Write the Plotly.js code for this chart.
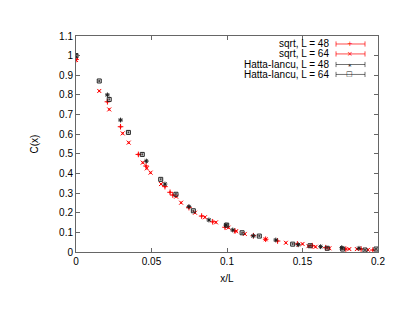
<!DOCTYPE html>
<html>
<head>
<meta charset="utf-8">
<script src="https://cdn.plot.ly/plotly-3.0.1.min.js"></script>
<style>html,body{margin:0;padding:0;background:#fff;}#chart{width:407px;height:315px;}</style>
</head>
<body>
<div id="chart"></div>
<script>
// sqrt, L = 48
const sqrt48X = [0, 0.0208, 0.0295, 0.0413, 0.0464, 0.0589, 0.0623, 0.0641, 0.0748, 0.0832, 0.0905, 0.0987, 0.1053, 0.1175, 0.1256, 0.1335, 0.1466, 0.1565, 0.1654, 0.1787, 0.1888, 0.1966];
const sqrt48Y = [0.98, 0.765, 0.638, 0.497, 0.438, 0.333, 0.304, 0.290, 0.226, 0.183, 0.154, 0.126, 0.107, 0.083, 0.065, 0.056, 0.041, 0.032, 0.022, 0.015, 0.015, 0.010];
// sqrt, L = 64
const sqrt64X = [0, 0.0154, 0.0220, 0.0309, 0.0349, 0.0442, 0.0469, 0.0494, 0.0563, 0.0663, 0.0696, 0.0788, 0.0854, 0.0927, 0.1010, 0.1060, 0.1118, 0.1256, 0.1390, 0.1500, 0.1540, 0.1586, 0.1678, 0.1810, 0.1860, 0.1934];
const sqrt64Y = [0.978, 0.820, 0.726, 0.604, 0.557, 0.455, 0.426, 0.404, 0.346, 0.282, 0.251, 0.200, 0.177, 0.151, 0.124, 0.106, 0.092, 0.065, 0.047, 0.041, 0.030, 0.026, 0.019, 0.015, 0.015, 0.011];
// Hatta-Iancu, L = 48
const hi48X = [0, 0.0208, 0.0295, 0.0466, 0.0589, 0.0748, 0.0880, 0.0993, 0.1038, 0.1174, 0.1323, 0.1472, 0.1620, 0.1760, 0.1874];
const hi48Y = [1.0, 0.800, 0.672, 0.463, 0.346, 0.231, 0.163, 0.137, 0.112, 0.082, 0.061, 0.037, 0.027, 0.022, 0.019];
// Hatta-Iancu, L = 64
const hi64X = [0, 0.0154, 0.0220, 0.0347, 0.0439, 0.0561, 0.0662, 0.0777, 0.0998, 0.1100, 0.1214, 0.1435, 0.1550, 0.1664, 0.1766, 0.1914, 0.1987];
const hi64Y = [1.0, 0.871, 0.777, 0.609, 0.497, 0.370, 0.294, 0.210, 0.137, 0.098, 0.081, 0.040, 0.032, 0.019, 0.015, 0.010, 0.015];

const seriesNames = ['sqrt, L = 48', 'sqrt, L = 64', 'Hatta-Iancu, L = 48', 'Hatta-Iancu, L = 64'];
const seriesX = [sqrt48X, sqrt64X, hi48X, hi64X];
const seriesY = [sqrt48Y, sqrt64Y, hi48Y, hi64Y];
const seriesColors = ['#ff0000', '#ff0000', '#222222', '#222222'];
const seriesSymbols = ['cross-thin-open', 'x-thin-open', 'asterisk-open', 'square-open'];
const legendGlyphs = ['+', '×', '*', '□'];

const traces = seriesNames.map((n, i) => ({
  type: 'scatter', mode: 'markers', name: n, showlegend: false,
  x: seriesX[i], y: seriesY[i],
  marker: {symbol: seriesSymbols[i], size: 4, color: seriesColors[i], line: {color: seriesColors[i], width: 1}},
  error_y: {type: 'constant', value: 0.003, color: seriesColors[i], thickness: 0.8, width: 1}
}));

// gnuplot-style legend (text right-aligned, sample to the right)
const rowY = [0.963, 0.917, 0.868, 0.822];
const annotations = [];
const shapes = [];
seriesNames.forEach((n, i) => {
  annotations.push({xref: 'paper', yref: 'paper', x: 0.843, y: rowY[i], xanchor: 'right', yanchor: 'middle',
    text: n, showarrow: false, font: {family: 'Liberation Sans, Arial, sans-serif', size: 10, color: '#000'}});
  const c = i < 2 ? 'rgba(255,0,0,0.7)' : 'rgba(0,0,0,0.55)';
  shapes.push({type: 'line', xref: 'paper', yref: 'paper', x0: 0.861, x1: 0.957, y0: rowY[i], y1: rowY[i], line: {color: c, width: 1}});
  shapes.push({type: 'line', xref: 'paper', yref: 'paper', x0: 0.861, x1: 0.861, y0: rowY[i] - 0.012, y1: rowY[i] + 0.012, line: {color: c, width: 1}});
  shapes.push({type: 'line', xref: 'paper', yref: 'paper', x0: 0.957, x1: 0.957, y0: rowY[i] - 0.012, y1: rowY[i] + 0.012, line: {color: c, width: 1}});
  annotations.push({xref: 'paper', yref: 'paper', x: 0.907, y: rowY[i] - (i === 2 ? 0.012 : 0), xanchor: 'center', yanchor: 'middle',
    text: legendGlyphs[i], showarrow: false, font: {family: 'DejaVu Sans, sans-serif', size: 7, color: seriesColors[i]}});
});

const axisCommon = {
  showgrid: false, zeroline: false, showline: true, mirror: 'ticks', linecolor: '#666', linewidth: 1,
  ticks: 'inside', ticklen: 4, tickcolor: '#666', tickwidth: 1,
  tickfont: {family: 'Liberation Sans, Arial, sans-serif', size: 10, color: '#000'}
};

const layout = {
  width: 407, height: 315,
  margin: {l: 76, r: 29, t: 36, b: 63},
  paper_bgcolor: '#fff', plot_bgcolor: '#fff',
  showlegend: false,
  xaxis: Object.assign({}, axisCommon, {range: [0, 0.2], tickvals: [0, 0.05, 0.1, 0.15, 0.2], ticktext: ['0', '0.05', '0.1', '0.15', '0.2'],
    title: {text: 'x/L', font: {family: 'Liberation Sans, Arial, sans-serif', size: 10, color: '#000'}, standoff: 8}}),
  yaxis: Object.assign({}, axisCommon, {range: [0, 1.1], tickvals: [0, 0.1, 0.2, 0.3, 0.4, 0.5, 0.6, 0.7, 0.8, 0.9, 1, 1.1],
    ticktext: ['0', '0.1', '0.2', '0.3', '0.4', '0.5', '0.6', '0.7', '0.8', '0.9', '1', '1.1'],
    title: {text: 'C(x)', font: {family: 'Liberation Sans, Arial, sans-serif', size: 10, color: '#000'}, standoff: 18}}),
  annotations: annotations,
  shapes: shapes
};

Plotly.newPlot('chart', traces, layout, {displayModeBar: false, staticPlot: true});
</script>
</body>
</html>
